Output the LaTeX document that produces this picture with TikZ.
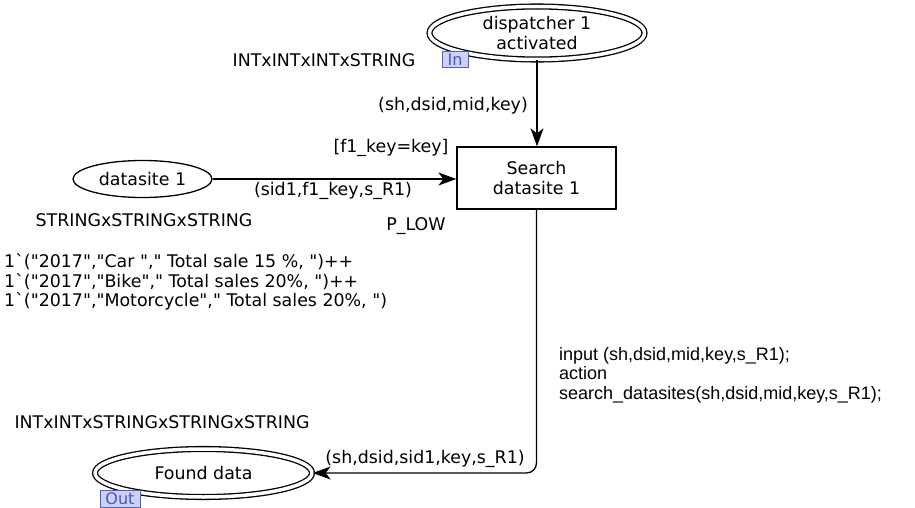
\documentclass[tikz,border=0pt]{standalone}
\usepackage{fontspec}
\setmainfont{DejaVu Sans}
\newfontfamily\codefont{Liberation Sans}
\usetikzlibrary{arrows.meta,shapes.geometric}
\definecolor{tagfill}{RGB}{205,210,245}
\definecolor{tagline}{RGB}{80,95,200}
\definecolor{tagtext}{RGB}{70,85,200}
\newcommand\netfont{\fontsize{17.4}{19.5}\selectfont}
\newcommand\qq{\textquotedbl}
\begin{document}
\begin{tikzpicture}[x=1pt,y=-1pt,
  every node/.style={font=\netfont, inner sep=0pt},
  place/.style={draw, ellipse, line width=1.3pt, align=center},
  portplace/.style={place, double, double distance=3.5pt},
  trans/.style={draw, rectangle, line width=1.3pt, align=center,
    minimum width=159pt, minimum height=62pt},
  arc/.style={line width=1.3pt, -{Stealth[length=18pt,width=13pt,inset=5pt]}},
  tag/.style={draw=tagline, fill=tagfill, text=tagtext, line width=0.8pt,
    font=\fontsize{16}{16}\selectfont, inner sep=0pt}
]
\useasboundingbox (0,0) rectangle (915,508);

% places and transition
\node[portplace, minimum width=215pt, minimum height=53pt] (disp) at (537,33)
  {dispatcher 1\\activated};
\node[place, minimum width=139pt, minimum height=37pt] (ds) at (142.5,179)
  {datasite 1};
\node[trans] (search) at (536.5,178) {Search\\datasite 1};
\node[portplace, minimum width=217pt, minimum height=48pt] (found) at (203.5,473)
  {Found data};

% port tags
\node[tag, minimum width=26pt, minimum height=16pt] (intag) at (455,59.5) {In};
\node[tag, minimum width=40pt, minimum height=17pt] (outtag) at (120,498.5) {Out};

% arcs
\draw[arc] (disp.south) -- (disp.south |- search.north);
\draw[arc] (ds.east |- 0,179) -- (search.west |- 0,179);
\draw[arc, rounded corners=10pt] (search.south) |- (found.east);

% inscriptions
\node (disptype) at (324,60) {INTxINTxINTxSTRING};
\node (inexpr) at (453,106) {(sh,dsid,mid,key)};
\node (guard) at (391,148) {[f1\_key=key]};
\node (dsexpr) at (333,191) {(sid1,f1\_key,s\_R1)};
\node (dstype) at (144,220) {STRINGxSTRINGxSTRING};
\node (prio) at (416,226) {P\_LOW};
\node[anchor=west, align=left] (marking) at (4,282)
  {1\textasciigrave(\qq2017\qq,\qq Car \qq,\qq{} Total sale 15 \%, \qq)++\\
   1\textasciigrave(\qq2017\qq,\qq Bike\qq,\qq{} Total sales 20\%, \qq)++\\
   1\textasciigrave(\qq2017\qq,\qq Motorcycle\qq,\qq{} Total sales 20\%, \qq)};
\node[anchor=west, align=left, font=\codefont\fontsize{18}{19.5}\selectfont] (code) at (559,375)
  {input (sh,dsid,mid,key,s\_R1);\\
   action\\
   search\_datasites(sh,dsid,mid,key,s\_R1);};
\node (foundtype) at (162,422) {INTxINTxSTRINGxSTRINGxSTRING};
\node (outexpr) at (425,459) {(sh,dsid,sid1,key,s\_R1)};
\end{tikzpicture}
\end{document}
